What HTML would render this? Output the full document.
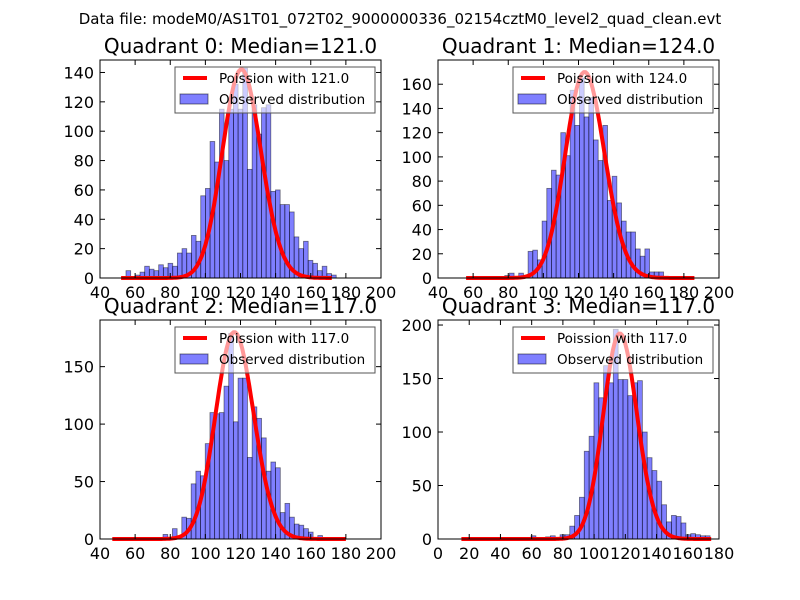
<!DOCTYPE html>
<html><head><meta charset="utf-8"><style>
body{margin:0;background:#fff;}
svg{display:block;font-family:"DejaVu Sans","Liberation Sans",sans-serif;}
</style></head><body>
<svg id="fig" width="800" height="600" viewBox="0 0 800 600">
<rect width="800" height="600" fill="#fff"/>
<text x="400" y="24" font-size="15" text-anchor="middle">Data file: modeM0/AS1T01_072T02_9000000336_02154cztM0_level2_quad_clean.evt</text>
</svg>
<script>
// Quadrant 0
const q0Heights=[5,0,2,4,8,6,5,9,7,10,8,17,20,17,29,25,56,61,93,79,115,80,115,132,115,143,74,118,98,116,118,59,60,50,50,45,28,20,25,12,10,5,8,3,2];
const q0BinStart=54.8, q0BinWidth=2.66;
// Quadrant 1
const q1Heights=[2,4,0,4,0,22,23,15,47,74,89,85,120,101,155,126,165,133,149,114,97,126,64,84,62,47,38,38,24,18,24,5,5,5];
const q1BinStart=78, q1BinWidth=2.66;
// Quadrant 2
const q2Heights=[4,0,9,0,19,18,48,59,55,83,110,109,110,133,179,102,140,140,71,115,105,88,59,67,62,23,31,19,13,12,9,6,0,3];
const q2BinStart=75.9, q2BinWidth=2.67;
// Quadrant 3
const q3Heights=[3,0,0,2,3,0,4,4,12,22,39,82,96,146,132,162,146,196,149,149,134,146,148,100,76,64,54,32,16,22,21,15,4,5,4,3,3];
const q3BinStart=59.6, q3BinWidth=3.1;
// Poisson fits
const poissonLambda=[121,124,117,117];
const poissonPeak=[142,170,180,192];
const poissonRange=[[52,172],[56,186],[47,180],[15,175]];
const medians=["121.0","124.0","117.0","117.0"];
const xTicks=[[40,60,80,100,120,140,160,180,200],[40,60,80,100,120,140,160,180,200],[40,60,80,100,120,140,160,180,200],[0,20,40,60,80,100,120,140,160,180]];
const yTicks=[[0,20,40,60,80,100,120,140],[0,20,40,60,80,100,120,140,160],[0,50,100,150],[0,50,100,150,200]];
const xDomains=[[40,200],[40,200],[40,200],[0,180]];
const yMax=[148.5,180,190.6,204.7];

const NS="http://www.w3.org/2000/svg";
const fig=document.getElementById('fig');
function mk(tag,attrs,parent){const e=document.createElementNS(NS,tag);for(const k in attrs)e.setAttribute(k,attrs[k]);(parent||fig).appendChild(e);return e;}
const boxes=[[100,60,381,278],[438,60,719,278],[100,320,381,539],[438,320,719,539]];
const heights=[q0Heights,q1Heights,q2Heights,q3Heights];
const starts=[q0BinStart,q1BinStart,q2BinStart,q3BinStart];
const widths=[q0BinWidth,q1BinWidth,q2BinWidth,q3BinWidth];
function lgamma(n){let s=0;for(let i=2;i<=n;i++)s+=Math.log(i);return s;}

for(let p=0;p<4;p++){
  const [L,T,R,B]=boxes[p];
  const xs=v=>L+(v-xDomains[p][0])/(xDomains[p][1]-xDomains[p][0])*(R-L);
  const ys=v=>B-v/yMax[p]*(B-T);
  const g=mk('g',{});
  
  
  const t=mk('text',{x:(L+R)/2,y:T-7,'font-size':20,'text-anchor':'middle'},g);
  t.textContent='Quadrant '+p+': Median='+medians[p];
  
  
  heights[p].forEach((h,i)=>{
    if(h<=0)return;
    const x0=xs(starts[p]+i*widths[p]), x1=xs(starts[p]+(i+1)*widths[p]);
    const r=mk('rect',{x:x0,y:ys(h),width:x1-x0,height:ys(0)-ys(h),fill:'rgba(0,0,255,0.5)',stroke:'rgba(0,0,0,0.5)','stroke-width':0.8},g);
    
    
  });
  const lam=poissonLambda[p];
  const peakK=Math.floor(lam);
  const lpk=peakK*Math.log(lam)-lam-lgamma(peakK);
  let d='';
  for(let k=poissonRange[p][0];k<=poissonRange[p][1];k++){
    const lp=k*Math.log(lam)-lam-lgamma(k);
    const v=poissonPeak[p]*Math.exp(lp-lpk);
    d+=(d?'L':'M')+xs(k).toFixed(1)+','+ys(v).toFixed(1);
  }
  const c=mk('path',{d:d,fill:'none',stroke:'#ff0000','stroke-width':4,'stroke-linejoin':'round'},g);
  
  
  const f=mk('rect',{x:L,y:T,width:R-L,height:B-T,fill:'none',stroke:'#000','stroke-width':1},g);
  
  
  xTicks[p].forEach(v=>{
    const x=xs(v);
    mk('line',{x1:x,y1:B,x2:x,y2:B-5,stroke:'#000'},g);
    mk('line',{x1:x,y1:T,x2:x,y2:T+5,stroke:'#000'},g);
    const tl=mk('text',{x:x,y:B+20,'font-size':16,'text-anchor':'middle'},g);
    tl.textContent=v;
    
    
  });
  yTicks[p].forEach(v=>{
    const y=ys(v);
    mk('line',{x1:L,y1:y,x2:L+5,y2:y,stroke:'#000'},g);
    mk('line',{x1:R,y1:y,x2:R-5,y2:y,stroke:'#000'},g);
    const tl=mk('text',{x:L-6,y:y+6,'font-size':16,'text-anchor':'end'},g);
    tl.textContent=v;
    
    
  });
  const lg=mk('g',{},g);
  
  
  const lx=L+75, ly=T+7;
  mk('rect',{x:lx,y:ly,width:200,height:46,fill:'rgba(255,255,255,0.6)',stroke:'#555','stroke-width':1},lg);
  mk('line',{x1:lx+8,y1:ly+11,x2:lx+32,y2:ly+11,stroke:'#ff0000','stroke-width':4},lg);
  const l1=mk('text',{x:lx+44,y:ly+16,'font-size':13.5},lg);
  l1.textContent='Poission with '+medians[p];
  
  
  mk('rect',{x:lx+5,y:ly+27,width:28,height:10,fill:'rgba(0,0,255,0.5)',stroke:'rgba(0,0,0,0.5)'},lg);
  const l2=mk('text',{x:lx+44,y:ly+37,'font-size':13.5},lg);
  l2.textContent='Observed distribution';
  
  
}
</script>
</body></html>
